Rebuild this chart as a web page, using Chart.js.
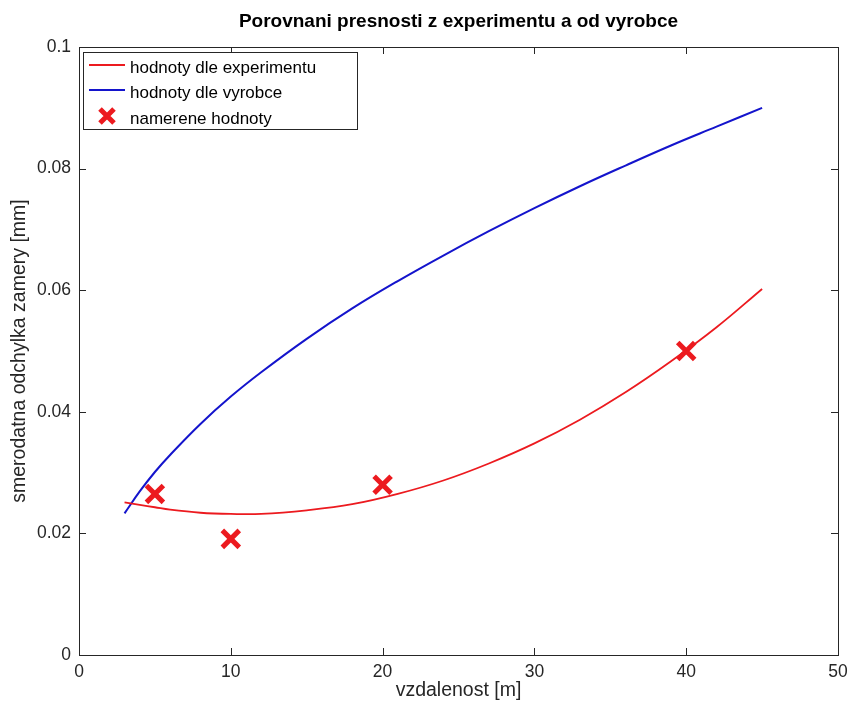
<!DOCTYPE html>
<html>
<head>
<meta charset="utf-8">
<script src="https://cdn.jsdelivr.net/npm/chart.js@4/dist/chart.umd.min.js"></script>
<style>
  html, body { margin: 0; padding: 0; background: #fff; }
  #wrap { position: relative; width: 855px; height: 704px; }
</style>
</head>
<body>
<div id="wrap"><canvas id="chart" width="855" height="704"></canvas></div>
<script>
// curve sample points
const curveX = [3, 4, 5, 6, 8, 10, 12, 15, 18, 21, 24, 27, 30, 33, 36, 39, 42, 45];
const experimentY = [0.0251, 0.0247, 0.0243, 0.0239, 0.0234, 0.0232, 0.0232, 0.0238, 0.0248, 0.0265,
                     0.0287, 0.0315, 0.0348, 0.0387, 0.0432, 0.0483, 0.0539, 0.0602];
const vyrobceY = [0.0233, 0.0269, 0.0301, 0.0329, 0.0380, 0.0425, 0.0465, 0.0520, 0.0570, 0.0615,
                  0.0657, 0.0697, 0.0735, 0.0771, 0.0805, 0.0838, 0.0869, 0.0900];
// measured points
const measuredX = [5, 10, 20, 40];
const measuredY = [0.0265, 0.0191, 0.0280, 0.0500];

const labels = ['hodnoty dle experimentu', 'hodnoty dle vyrobce', 'namerene hodnoty'];

const RED = '#ec1a1f';
const BLUE = '#1414cc';
const AXIS = '#262626';
const FONT = "'Liberation Sans', Arial, sans-serif";

const toPts = (xs, ys) => xs.map((x, i) => ({ x: x, y: ys[i] }));

// box, inward ticks and legend like the original figure
const matlabBox = {
  id: 'matlabBox',
  afterDatasetsDraw(chart) {
    const { ctx, chartArea: a, scales } = chart;
    ctx.save();
    ctx.strokeStyle = AXIS;
    ctx.lineWidth = 1;
    ctx.strokeRect(a.left + 0.5, a.top + 0.5, a.right - a.left, a.bottom - a.top);
    const tl = 7;
    ctx.beginPath();
    scales.x.ticks.forEach(t => {
      const px = Math.round(scales.x.getPixelForValue(t.value)) + 0.5;
      ctx.moveTo(px, a.bottom); ctx.lineTo(px, a.bottom - tl);
      ctx.moveTo(px, a.top); ctx.lineTo(px, a.top + tl);
    });
    scales.y.ticks.forEach(t => {
      const py = Math.round(scales.y.getPixelForValue(t.value)) + 0.5;
      ctx.moveTo(a.left, py); ctx.lineTo(a.left + tl, py);
      ctx.moveTo(a.right, py); ctx.lineTo(a.right - tl, py);
    });
    ctx.stroke();

    // legend
    const lx = a.left + 4, ly = a.top + 5, lw = 274, lh = 77;
    ctx.fillStyle = '#fff';
    ctx.fillRect(lx, ly, lw, lh);
    ctx.strokeStyle = AXIS;
    ctx.strokeRect(lx + 0.5, ly + 0.5, lw, lh);
    ctx.font = '17px ' + FONT;
    ctx.textBaseline = 'middle';
    const rows = [ly + 13, ly + 38, ly + 64];
    chart.data.datasets.forEach((ds, i) => {
      const y = rows[i];
      ctx.strokeStyle = ds.borderColor;
      if (ds.showLine) {
        ctx.lineWidth = ds.borderWidth;
        ctx.beginPath();
        ctx.moveTo(lx + 6, y); ctx.lineTo(lx + 42, y);
        ctx.stroke();
      } else {
        ctx.lineWidth = 5;
        ctx.beginPath();
        ctx.moveTo(lx + 17, y - 7); ctx.lineTo(lx + 31, y + 7);
        ctx.moveTo(lx + 31, y - 7); ctx.lineTo(lx + 17, y + 7);
        ctx.stroke();
      }
      ctx.fillStyle = '#000';
      ctx.fillText(ds.label, lx + 47, y + 3);
    });
    ctx.restore();
  }
};

new Chart(document.getElementById('chart'), {
  type: 'scatter',
  data: {
    datasets: [
      {
        label: labels[0],
        data: toPts(curveX, experimentY),
        showLine: true,
        borderColor: RED,
        borderWidth: 1.8,
        pointRadius: 0,
        tension: 0.4
      },
      {
        label: labels[1],
        data: toPts(curveX, vyrobceY),
        showLine: true,
        borderColor: BLUE,
        borderWidth: 2,
        pointRadius: 0,
        tension: 0.4
      },
      {
        label: labels[2],
        data: toPts(measuredX, measuredY),
        showLine: false,
        pointStyle: 'crossRot',
        pointRadius: 12,
        borderColor: RED,
        borderWidth: 5,
        backgroundColor: RED
      }
    ]
  },
  options: {
    responsive: false,
    animation: false,
    layout: { padding: { right: 17, top: 0, left: 0, bottom: 0 } },
    plugins: {
      legend: { display: false },
      tooltip: { enabled: false },
      title: {
        display: true,
        fullSize: false,
        text: 'Porovnani presnosti z experimentu a od vyrobce',
        color: '#000',
        font: { family: FONT, size: 19, weight: 'bold' },
        padding: { top: 10, bottom: 14.2 }
      }
    },
    scales: {
      x: {
        type: 'linear',
        min: 0, max: 50,
        ticks: { stepSize: 10, color: AXIS, padding: 7, font: { family: FONT, size: 17.5 } },
        grid: { display: false, drawTicks: false },
        border: { display: false },
        title: {
          display: true, text: 'vzdalenost [m]', color: AXIS,
          font: { family: FONT, size: 19.5 }, padding: { top: 0, bottom: 2 }
        },
        afterFit(s) { s.height = 49; }
      },
      y: {
        type: 'linear',
        min: 0, max: 0.1,
        ticks: {
          stepSize: 0.02, color: AXIS, padding: 8, font: { family: FONT, size: 17.5 },
          callback: v => String(Number(v.toFixed(2)))
        },
        grid: { display: false, drawTicks: false },
        border: { display: false },
        title: {
          display: true, text: 'smerodatna odchylka zamery [mm]', color: AXIS,
          font: { family: FONT, size: 19.5 }, padding: { top: 8, bottom: 0 }
        },
        afterFit(s) { s.width = 79; }
      }
    }
  },
  plugins: [matlabBox]
});
</script>
</body>
</html>
